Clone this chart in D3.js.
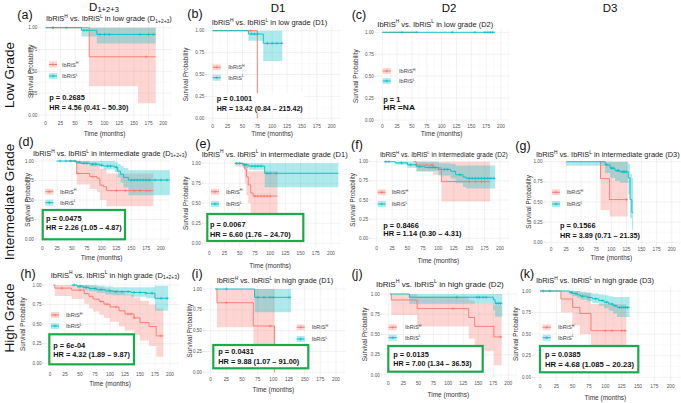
<!DOCTYPE html>
<html><head><meta charset="utf-8">
<script src="https://cdn.jsdelivr.net/npm/d3@7"></script>
<style>body{margin:0;background:#fff} svg{display:block;font-family:"Liberation Sans",Arial,sans-serif}</style>
</head><body><svg id="c" width="681" height="403"></svg>
<script>
// ---------- DATA (step curves: [time, survival]; CI: [time, lower, upper]) ----------
const columnHeaders = ["D1+2+3", "D1", "D2", "D3"];
const rowLabels = ["Low Grade", "Intermediate Grade", "High Grade"];
const xTicks = [0, 25, 50, 75, 100, 125, 150, 175, 200];
const yTicks = [0, 0.25, 0.5, 0.75, 1];
const yTickLabels = ["0.00", "0.25", "0.50", "0.75", "1.00"];

// (a) low grade D1+2+3
const a_H = [[0,1],[74,0.667],[187,0.667]];
const a_H_ci = [[0,1,1],[74,0.33,1],[157,0.134,1],[187,0.134,1]];
const a_H_cens = [13,171];
const a_L = [[0,1],[61,0.97],[87,0.923],[187,0.923]];
const a_L_ci = [[0,1,1],[61,0.90,1],[87,0.82,1],[187,0.82,1]];
const a_L_cens = [12,35,65,70,92,100,108,160,175,183];
// (b) low grade D1
const b_H = [[0,1],[75,0]];
const b_H_ci = [];
const b_H_cens = [64];
const b_L = [[0,1],[60,0.962],[85,0.856],[117,0.856]];
const b_L_ci = [[0,1,1],[60,0.886,1],[85,0.654,1],[117,0.654,1]];
const b_L_cens = [65,70,75,92,100,108,116];
// (c) low grade D2
const c_H = [[0,1],[58,1]];
const c_H_ci = [];
const c_H_cens = [58];
const c_L = [[0,1],[190,1]];
const c_L_ci = [];
const c_L_cens = [33,118,156,173,178,182,186];
// (d) intermediate D1+2+3
const d_H = [[44,1],[58,0.84],[80,0.80],[92,0.78],[97,0.69],[103,0.67],[108,0.62],[187,0.62]];
const d_H_ci = [[44,1,1],[58,0.70,1],[80,0.64,0.98],[92,0.60,0.96],[97,0.50,0.90],[108,0.42,0.84],[187,0.42,0.84]];
const d_H_cens = [60,85,125,140,155,165,175,180];
const d_L = [[24,1],[57,0.985],[65,0.97],[80,0.96],[97,0.945],[103,0.935],[122,0.92],[127,0.87],[132,0.83],[137,0.79],[145,0.756],[215,0.756]];
const d_L_ci = [[24,1,1],[57,0.96,1],[80,0.93,1],[103,0.89,1],[122,0.86,0.99],[127,0.79,0.96],[132,0.72,0.94],[137,0.66,0.91],[145,0.56,0.88],[215,0.56,0.88]];
const d_L_cens = [30,40,48,55,62,70,75,85,90,100,110,115,125,150,155,160,165,170,175,180,190,200,210];
// (e) intermediate D1
const e_H = [[42,1],[58,0.93],[61,0.83],[64,0.73],[68,0.63],[72,0.59],[112,0.59]];
const e_H_ci = [[42,0.96,1],[58,0.75,1],[61,0.6,1],[64,0.5,0.9],[68,0.38,0.9],[72,0.33,0.9],[112,0.33,0.9]];
const e_H_cens = [75,80,85,90,95,100];
const e_L = [[42,1],[55,0.98],[65,0.965],[91,0.875],[212,0.875]];
const e_L_ci = [[42,1,1],[55,0.94,1],[65,0.92,1],[91,0.70,1],[212,0.70,1]];
const e_L_cens = [45,50,60,70,75,80,85,95,100,110];
// (f) intermediate D2
const f_H = [[60,1],[64,0.957],[92,0.92],[105,0.74],[184,0.74]];
const f_H_ci = [[60,1,1],[64,0.87,1],[92,0.83,1],[105,0.48,1],[184,0.48,1]];
const f_H_cens = [64,80,90,150,160,170,175];
const f_L = [[12,1],[30,0.985],[50,0.96],[65,0.935],[78,0.925],[100,0.90],[120,0.875],[128,0.83],[140,0.80],[145,0.783],[192,0.783]];
const f_L_ci = [[12,1,1],[30,0.96,1],[50,0.92,1],[65,0.88,1],[100,0.82,0.98],[120,0.78,0.97],[128,0.72,0.95],[140,0.67,0.95],[145,0.65,0.95],[192,0.65,0.95]];
const f_L_cens = [15,20,40,55,70,85,90,95,110,115,135,150,155,160,165,170,175,180,185,190];
// (g) intermediate D3
const g_H = [[80,1],[82,0.79],[97,0.53],[127,0.53]];
const g_H_ci = [[80,1,1],[82,0.40,1],[97,0.32,1],[127,0.32,1]];
const g_H_cens = [125];
const g_L = [[25,1],[90,0.96],[98,0.92],[106,0.89],[114,0.875],[128,0.80],[131,0.53],[134,0.37],[136,0.37]];
const g_L_ci = [[25,0.95,1],[90,0.86,1],[98,0.80,1],[106,0.76,1],[114,0.74,1],[128,0.60,0.97],[131,0.3,0.85],[134,0.15,0.8],[136,0.15,0.8]];
const g_L_cens = [92,100,103,110,112,118,120,122,125];
// (h) high D1+2+3
const h_H = [[5,1],[8,0.96],[36,0.935],[57,0.89],[65,0.855],[72,0.82],[82,0.79],[90,0.755],[100,0.72],[115,0.67],[125,0.63],[140,0.58],[150,0.52],[165,0.47],[177,0.35],[189,0.35]];
const h_H_ci = [[5,1,1],[8,0.86,1],[36,0.82,1],[57,0.76,1],[65,0.70,0.99],[72,0.66,0.98],[82,0.62,0.97],[90,0.58,0.96],[100,0.53,0.94],[115,0.47,0.91],[125,0.42,0.88],[140,0.36,0.84],[150,0.29,0.80],[165,0.22,0.75],[177,0.085,0.70],[189,0.085,0.70]];
const h_H_cens = [20,50,85,95,110,130,135,140,185];
const h_L = [[36,1],[45,0.985],[55,0.97],[65,0.955],[78,0.94],[92,0.925],[105,0.915],[135,0.905],[160,0.895],[175,0.83],[197,0.83]];
const h_L_ci = [[36,1,1],[45,0.96,1],[55,0.94,1],[65,0.92,1],[78,0.90,0.99],[92,0.88,0.98],[105,0.87,0.97],[135,0.85,0.97],[160,0.83,0.97],[175,0.67,0.99],[197,0.67,0.99]];
const h_L_cens = [40,50,60,75,85,100,110,120,130,140,150,160,170,185,195];
// (i) high D1
const i_H = [[8,1],[10,0.835],[68,0.556],[102,0]];
const i_H_ci = [[8,1,1],[10,0.54,1],[68,0.2,1],[102,0.2,1]];
const i_H_cens = [25,95];
const i_L = [[7,1],[70,0.90],[128,0.90]];
const i_L_ci = [[7,1,1],[70,0.72,1],[128,0.72,1]];
const i_L_cens = [25,75,85,95,100,125];
// (j) high D2
const j_H = [[3,1],[5,0.926],[48,0.82],[134,0.71],[144,0.60],[176,0.47],[189,0.47]];
const j_H_ci = [[3,1,1],[5,0.74,1],[48,0.60,0.97],[134,0.45,0.92],[144,0.30,0.88],[176,0.12,0.86],[189,0.12,0.86]];
const j_H_cens = [108,187];
const j_L = [[3,1],[35,0.96],[175,0.93],[178,0.885],[190,0.885]];
const j_L_ci = [[3,1,1],[35,0.88,1],[175,0.80,1],[178,0.72,1],[190,0.72,1]];
const j_L_cens = [114,148,152,158,163,180,184,187];
// (k) high D3
const k_H = [[0,1],[32,0.907],[50,0.81],[61,0.74],[78,0.54],[132,0.54]];
const k_H_ci = [[0,1,1],[32,0.75,1],[50,0.60,1],[61,0.50,0.98],[78,0.30,0.85],[132,0.30,0.85]];
const k_H_cens = [100,110,125,130];
const k_L = [[0,1],[45,0.985],[50,0.97],[57,0.955],[62,0.94],[72,0.925],[80,0.91],[90,0.89],[98,0.87],[105,0.85],[112,0.83],[118,0.81],[137,0.81]];
const k_L_ci = [[0,1,1],[45,0.96,1],[50,0.94,1],[57,0.92,1],[62,0.90,0.99],[72,0.88,0.98],[80,0.86,0.97],[90,0.83,0.96],[98,0.80,0.95],[105,0.77,0.94],[112,0.74,0.93],[118,0.70,0.93],[137,0.70,0.93]];
const k_L_cens = [5,15,48,55,65,75,85,95,102,110,115,122,125,128,131,134];

const panelLetters = ["a","b","c","d","e","f","g","h","i","j","k"];
const panelGrades = ["low","low","low","intermediate","intermediate","intermediate","intermediate","high","high","high","high"];
const panelSets = ["1+2+3","D1","D2","1+2+3","D1","D2","D3","1+2+3","D1","D2","D3"];
const pValues = ["p = 0.2685","p = 0.1001","p = 1","p = 0.0475","p = 0.0067","p = 0.8466","p = 0.1566","p = 6e-04","p = 0.0431","p = 0.0135","p = 0.0385"];
const hrValues = ["HR = 4.56 (0.41 – 50.30)","HR = 13.42 (0.84 – 215.42)","HR =NA","HR = 2.26 (1.05 – 4.87)","HR = 6.60 (1.76 – 24.70)","HR = 1.14 (0.30 – 4.31)","HR = 3.89 (0.71 – 21.35)","HR = 4.32 (1.89 – 9.87)","HR = 9.88 (1.07 – 91.00)","HR = 7.00 (1.34 – 36.53)","HR = 4.68 (1.085 – 20.23)"];

const curves = {
  a:[a_H,a_H_ci,a_H_cens,a_L,a_L_ci,a_L_cens], b:[b_H,b_H_ci,b_H_cens,b_L,b_L_ci,b_L_cens],
  c:[c_H,c_H_ci,c_H_cens,c_L,c_L_ci,c_L_cens], d:[d_H,d_H_ci,d_H_cens,d_L,d_L_ci,d_L_cens],
  e:[e_H,e_H_ci,e_H_cens,e_L,e_L_ci,e_L_cens], f:[f_H,f_H_ci,f_H_cens,f_L,f_L_ci,f_L_cens],
  g:[g_H,g_H_ci,g_H_cens,g_L,g_L_ci,g_L_cens], h:[h_H,h_H_ci,h_H_cens,h_L,h_L_ci,h_L_cens],
  i:[i_H,i_H_ci,i_H_cens,i_L,i_L_ci,i_L_cens], j:[j_H,j_H_ci,j_H_cens,j_L,j_L_ci,j_L_cens],
  k:[k_H,k_H_ci,k_H_cens,k_L,k_L_ci,k_L_cens]
};

// ---------- LAYOUT (pixel geometry) ----------
const L = {
 a:{x0:45.7,x2:163.3,y1:27.7,y0:115,tick:123.3,time:134,ylab:33,let:[25,15],tl:46,ty:18.5,tw:126,leg:[53,64.5,76],legx:62,p:[49.3,97.3,107.3],hrw:79},
 b:{x0:212.7,x2:331.7,y1:30.7,y0:118.3,tick:126.7,time:133.5,ylab:188.3,let:[195,14],tl:211.7,ty:22,tw:115.6,leg:[216.7,67.3,77.7],legx:228.3,p:[216.7,98.3,108.3],hrw:86,bg:true},
 c:{x0:382.3,x2:501,y1:32.3,y0:120,tick:126.7,time:133.5,ylab:358.3,let:[359,15],tl:377.3,ty:24,tw:116,leg:[386.7,71,81],legx:399,p:[383.3,99,107.7],hrw:31.7},
 d:{x0:42.3,x2:161,y1:161,y0:239,tick:248.3,time:258,ylab:30,let:[26,142],tl:33,ty:153,tw:154,leg:[49.3,191.7,202.7],legx:60,p:[46,218.3,227.3],hrw:75.7,box:[42.7,210,125,239.3]},
 e:{x0:209.3,x2:331,y1:163.3,y0:243.3,tick:253.3,time:266,ylab:188.3,let:[203,144],tl:201.7,ty:154,tw:146,leg:[215,191.7,204],legx:226,p:[210,224,234],hrw:80.7,box:[207.3,214,303.3,241]},
 f:{x0:376.7,x2:500,y1:161.7,y0:238.3,tick:248.3,time:260.7,ylab:355,let:[357,145],tl:380,ty:154,tw:128,leg:[381.7,192.3,204],legx:391.7,p:[383.3,225,233.3],hrw:78.3},
 g:{x0:551,x2:671.7,y1:161.7,y0:242.3,tick:249,time:258,ylab:530.7,let:[523,146],tl:536,ty:154,tw:144,leg:[556,192.3,204],legx:566.7,p:[560,225.7,235],hrw:80},
 h:{x0:50,x2:170,y1:285,y0:363.3,tick:374.3,time:383.3,ylab:25,let:[28,274],tl:50.7,ty:275,tw:129,leg:[55,315,326],legx:66,p:[53.3,345,354.3],hrw:76.7,box:[49.3,334.3,134,364.3]},
 i:{x0:210.7,x2:336,y1:289,y0:372.3,tick:379,time:390,ylab:191.7,let:[197,274],tl:216.7,ty:280,tw:116.6,leg:[300.7,327.3,339],legx:311.7,p:[218.3,351,361.7],hrw:81,box:[213.3,345,308.3,368.3]},
 j:{x0:388.3,x2:508.3,y1:294,y0:375,tick:383.3,time:395,ylab:366.7,let:[357,274],tl:376,ty:284,tw:128,leg:[392.7,327.3,337.7],legx:405,p:[393.3,354.3,363.3],hrw:78.3,box:[388.3,346,482.7,371.7]},
 k:{x0:540,x2:670.7,y1:291,y0:377.3,tick:386.7,time:397.7,ylab:518.3,let:[527,274],tl:536,ty:280,tw:118,leg:[546.7,327.3,337.7],legx:558,p:[545,354.3,364.3],hrw:89,box:[540,346,638.3,372.3]}
};
const headerPos = [[104,10.8],[278,11.5],[449,11.5],[610,11.5]];
const rowPos = [[14,75],[14,202],[14,318]];

const RED="#F8766D", TEAL="#00BFC4", GREEN="#1BAA4B";
const svg = d3.select("#c");

function survAt(steps,t){let s=steps.length?steps[0][1]:1;for(const [tt,v] of steps){if(tt<=t)s=v;else break;}return s;}

function rich(g,x,y,parts,fs,subShift){
  const t=g.append("text").attr("x",x).attr("y",y);
  let cur=0;
  parts.forEach(([s,m])=>{
    const target = m==="sup"? -0.4*fs : m==="sub"? (subShift||0.25)*fs : 0;
    t.append("tspan").attr("dy",target-cur).attr("font-size",m==="n"?fs:fs*0.66).text(s);
    cur=target;
  });
  return t;
}
function richFit(g,x,y,parts,fs,w){
  const t=rich(g,x,y,parts,fs);
  const cw=t.node().getComputedTextLength();
  t.remove();
  return rich(g,x,y,parts,fs*w/cw);
}

// column headers
columnHeaders.forEach((h,i)=>{
  const parts = h==="D1+2+3" ? [["D","n"],["1+2+3","sub"]] : [[h,"n"]];
  rich(svg,headerPos[i][0],headerPos[i][1],parts,11.5,0.12).attr("text-anchor","middle").attr("fill","#111");
});
// row labels
rowLabels.forEach((r,i)=>{
  svg.append("text").attr("transform",`translate(${rowPos[i][0]},${rowPos[i][1]}) rotate(-90)`)
    .attr("text-anchor","middle").attr("font-size",13.5).attr("fill","#111").text(r);
});

panelLetters.forEach((id,pi)=>{
  const c=L[id], [H,Hci,Hc,Lo,Lci,Lc]=curves[id];
  const xs=d3.scaleLinear().domain([0,200]).range([c.x0,c.x2]);
  const ys=d3.scaleLinear().domain([0,1]).range([c.y0,c.y1]);
  const g=svg.append("g");
  const px0=xs(-10), px1=xs(215), py0=ys(1.05), py1=ys(-0.05);
  const clip="clip"+id;
  g.append("clipPath").attr("id",clip).append("rect").attr("x",px0).attr("y",py0).attr("width",px1-px0).attr("height",py1-py0);
  // grid
  const grid=g.append("g");
  for(let v=-12.5; v<=215; v+=12.5){
    if(v<-10) continue;
    const major = Math.abs(v%25)<1e-9;
    grid.append("line").attr("x1",xs(v)).attr("x2",xs(v)).attr("y1",py0).attr("y2",py1)
      .attr("stroke",major?"#e4e4e4":"#f1f1f1").attr("stroke-width",major?0.5:0.3);
  }
  for(let v=0; v<=1.0001; v+=0.125){
    const major = Math.abs((v*4)-Math.round(v*4))<1e-9;
    grid.append("line").attr("x1",px0).attr("x2",px1).attr("y1",ys(v)).attr("y2",ys(v))
      .attr("stroke",major?"#e4e4e4":"#f1f1f1").attr("stroke-width",major?0.5:0.3);
  }
  const plot=g.append("g").attr("clip-path",`url(#${clip})`);
  const area=d3.area().x(d=>xs(d[0])).y0(d=>ys(d[1])).y1(d=>ys(d[2])).curve(d3.curveStepAfter);
  const line=d3.line().x(d=>xs(d[0])).y(d=>ys(d[1])).curve(d3.curveStepAfter);
  if(Hci.length) plot.append("path").attr("d",area(Hci)).attr("fill",RED).attr("opacity",0.3);
  if(Lci.length) plot.append("path").attr("d",area(Lci)).attr("fill",TEAL).attr("opacity",0.32);
  const drawCurve=(steps,cens,col)=>{
    plot.append("path").attr("d",line(steps)).attr("fill","none").attr("stroke",col).attr("stroke-width",0.9);
    cens.forEach(t=>{
      const x=xs(t), y=ys(survAt(steps,t));
      plot.append("path").attr("d",`M${x-1.5},${y}h3M${x},${y-1.5}v3`).attr("stroke",col).attr("stroke-width",0.6);
    });
  };
  drawCurve(H,Hc,RED);
  drawCurve(Lo,Lc,TEAL);
  // axes tick labels
  yTicks.forEach((v,k)=>{
    g.append("text").attr("x",px0-2.5).attr("y",ys(v)+1.6).attr("text-anchor","end").attr("font-size",4.6).attr("fill","#555").text(yTickLabels[k]);
    g.append("line").attr("x1",px0-1.6).attr("x2",px0).attr("y1",ys(v)).attr("y2",ys(v)).attr("stroke","#aaa").attr("stroke-width",0.4);
  });
  xTicks.forEach(v=>{
    g.append("text").attr("x",xs(v)).attr("y",c.tick+1.6).attr("text-anchor","middle").attr("font-size",4.8).attr("fill","#555").text(v);
  });
  g.append("text").attr("transform",`translate(${c.ylab},${(ys(0)+ys(1))/2}) rotate(-90)`).attr("text-anchor","middle")
    .attr("font-size",6.3).attr("fill","#333").text("Survival Probability");
  g.append("text").attr("x",(xs(0)+xs(200))/2).attr("y",c.time+2.2).attr("text-anchor","middle")
    .attr("font-size",6.5).attr("fill","#333").text("Time (months)");
  // legend
  [[RED,"H",c.leg[1]],[TEAL,"L",c.leg[2]]].forEach(([col,sup,yy])=>{
    const lx=c.leg[0];
    g.append("rect").attr("x",lx-4).attr("y",yy-3).attr("width",8).attr("height",6).attr("fill",col).attr("opacity",0.3);
    g.append("line").attr("x1",lx-4).attr("x2",lx+4).attr("y1",yy).attr("y2",yy).attr("stroke",col).attr("stroke-width",0.9);
    g.append("path").attr("d",`M${lx-1.5},${yy}h3M${lx},${yy-1.5}v3`).attr("stroke",col).attr("stroke-width",0.6);
    rich(g,c.legx,yy+2,[["IbRiS","n"],[sup,"sup"]],5.6).attr("fill","#444");
  });
  // p / HR box
  if(c.box){
    const b=c.box;
    g.append("rect").attr("x",b[0]).attr("y",b[1]).attr("width",b[2]-b[0]).attr("height",b[3]-b[1])
      .attr("fill","#fff").attr("stroke",GREEN).attr("stroke-width",2.2);
  }
  if(c.bg){
    g.append("rect").attr("x",c.p[0]-1).attr("y",c.p[1]-5).attr("width",c.hrw+2).attr("height",c.p[2]-c.p[1]+10).attr("fill","#fff");
  }
  g.append("text").attr("x",c.p[0]).attr("y",c.p[1]+2.6).attr("font-size",7.4).attr("font-weight","bold").attr("fill","#111").text(pValues[pi]);
  g.append("text").attr("x",c.p[0]).attr("y",c.p[2]+2.6).attr("font-size",7.4).attr("font-weight","bold").attr("fill","#111")
    .attr("textLength",c.hrw).attr("lengthAdjust","spacingAndGlyphs").text(hrValues[pi]);
  // title
  const set=panelSets[pi];
  const tail = set==="1+2+3" ? [[" in "+panelGrades[pi]+" grade (D","n"],["1+2+3","sub"],[")","n"]] : [[" in "+panelGrades[pi]+" grade ("+set+")","n"]];
  richFit(g,c.tl,c.ty+2.5,[["IbRiS","n"],["H","sup"],[" vs. IbRiS","n"],["L","sup"]].concat(tail),7.5,c.tw).attr("fill","#222");
  // panel letter
  g.append("text").attr("x",c.let[0]).attr("y",c.let[1]+4.3).attr("text-anchor","middle").attr("font-size",12.5).attr("fill","#111").text("("+id+")");
});
</script></body></html>
